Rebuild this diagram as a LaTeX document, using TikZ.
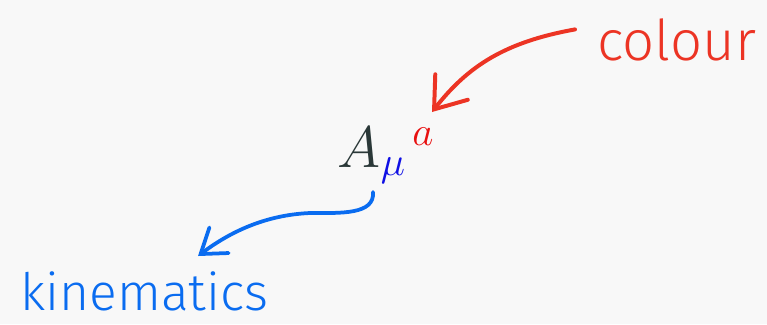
\RequirePackage{fix-cm}
\documentclass[tikz,border=0pt]{standalone}
\usepackage{fontspec}
\newfontfamily\handfont{Fira Sans Light}
\usepackage{tikz}
\usetikzlibrary{arrows.meta,calc}

\definecolor{paper}{RGB}{248,248,248}
\definecolor{inkred}{RGB}{236,52,36}
\definecolor{inkblue}{RGB}{10,108,240}
\definecolor{slate}{RGB}{42,56,56}
\definecolor{mublue}{RGB}{16,16,228}
\definecolor{supred}{RGB}{232,16,16}

\begin{document}
\begin{tikzpicture}[x=0.03cm,y=-0.03cm,
  hand/.style={font=\handfont\fontsize{44}{48}\selectfont,inner sep=0pt},
  redink/.style={draw=inkred,line width=3.4pt,line cap=round,line join=round},
  blueink/.style={draw=inkblue,line width=3.2pt,line cap=round,line join=round}]
  \fill[paper] (0,0) rectangle (767,324);
  % the field
  \node[inner sep=0pt,anchor=base,font=\fontsize{50}{54}\selectfont] (field) at (386,167)
    {$\color{slate}A_{\color{mublue}\mu}{}^{\,\color{supred}a}$};
  % labels
  \node[hand,text=inkred,anchor=base west,font=\handfont\fontsize{48}{52}\selectfont] (colourlbl) at (597,60) {colour};
  \node[hand,text=inkblue,anchor=base west] (kinlbl) at (20,310) {kinematics};
  \coordinate (redtip) at (432,112);
  \coordinate (bluetip) at (198,256);
  % arrows
  \draw[redink,-{Straight Barb[length=0.85cm,width=1.24cm,line cap=round]}]
    ([shift={(-22,-10)}]colourlbl.west) .. controls (505,42) and (468,66) .. (redtip);
  \draw[blueink,-{Straight Barb[length=0.69cm,width=0.96cm,line cap=round]}]
    ([shift={(-13,25)}]field.base) .. controls (375,215) and (340,213) .. (310,213)
    .. controls (265,215) and (230,232) .. (bluetip);
\end{tikzpicture}
\end{document}
